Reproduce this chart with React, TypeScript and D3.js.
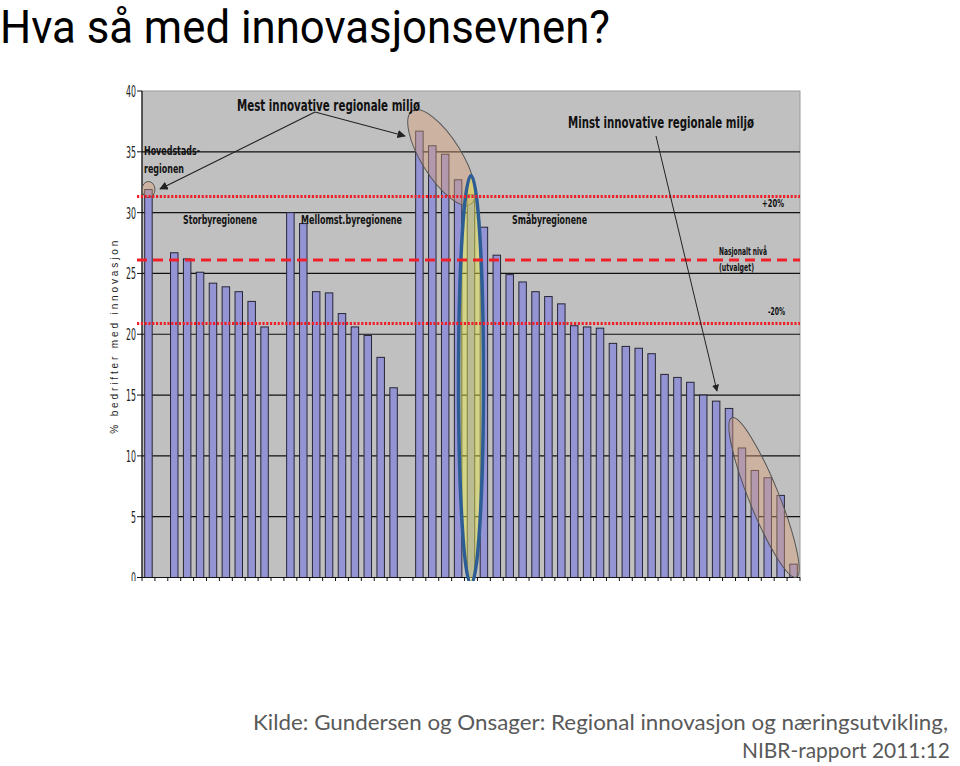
import React from 'react';
import * as d3 from 'd3';

// values (% bedrifter med innovasjon)
const hovedstad = [31.9];
const storby = [26.7, 26.2, 25.1, 24.2, 23.9, 23.5, 22.7, 20.6];
const mellomst = [30.0, 29.1, 23.5, 23.4, 21.7, 20.6, 19.9, 18.1, 15.6];
const smaaby = [
  36.7, 35.5, 34.8, 32.7, 31.5, 28.8, 26.5, 24.9, 24.3, 23.5,
  23.1, 22.5, 20.7, 20.6, 20.5, 19.25, 19.0, 18.85, 18.4, 16.7,
  16.45, 16.05, 15.0, 14.5, 13.9, 10.65, 8.8, 8.2, 6.75, 1.1,
];
const yTicks = [0, 5, 10, 15, 20, 25, 30, 35, 40];
const nasjonalt = 26.1;

// one empty slot between the groups, like the original
const slots: (number | null)[] = [];
[hovedstad, storby, mellomst, smaaby].forEach((g, gi) => {
  if (gi > 0) slots.push(null);
  g.forEach((v) => slots.push(v));
});

const W = 960;
const H = 766;
const plot = { left: 142, right: 800, top: 91, bottom: 577.5 };

const narrow = "'Liberation Sans Narrow', 'DejaVu Sans Condensed', 'Roboto', sans-serif";
const calibri = "Lato, 'Open Sans', sans-serif";

export default function App() {
  const x = d3.scaleBand<number>()
    .domain(d3.range(slots.length))
    .range([plot.left, plot.right])
    .padding(0);
  const y = d3.scaleLinear().domain([0, 40]).range([plot.bottom, plot.top]);
  const barW = x.bandwidth() * 0.58;
  const xc = (i: number) => (x(Math.floor(i)) as number) + x.bandwidth() * (0.5 + i - Math.floor(i));

  const hiIdx = slots.length - smaaby.length + 4; // markert region

  const redLines = [
    { v: nasjonalt * 1.2, dash: '2.2 1.6' },
    { v: nasjonalt, dash: '10 6' },
    { v: nasjonalt * 0.8, dash: '2.2 1.6' },
  ];

  const lbl = (t: string, px: number, py: number, len: number, size = 11.5) => (
    <text x={px} y={py} fontFamily={narrow} fontWeight="bold" fontSize={size}
      textLength={len} lengthAdjust="spacingAndGlyphs" fill="#111">{t}</text>
  );

  return (
    <div style={{ position: 'absolute', left: 0, top: 0 }}>
      <svg width={W} height={H} style={{ display: 'block', background: '#fff' }}>
        <defs>
          <clipPath id="chartClip">
            <rect x={100} y={80} width={703} height={501} />
          </clipPath>
          <marker id="arr" viewBox="0 0 10 10" refX={9} refY={5} markerWidth={7} markerHeight={7} orient="auto">
            <path d="M0,0L10,5L0,10z" fill="#222" />
          </marker>
        </defs>

        <text x={0} y={43} fontFamily="Roboto, sans-serif" fontSize={46} fill="#000"
          textLength={610} lengthAdjust="spacingAndGlyphs">Hva så med innovasjonsevnen?</text>

        <g clipPath="url(#chartClip)">
          <rect x={plot.left} y={plot.top} width={plot.right - plot.left} height={plot.bottom - plot.top}
            fill="#c0c0c0" stroke="#9a9a9a" strokeWidth={1} />

          {yTicks.slice(1, -1).map((t) => (
            <line key={'g' + t} x1={plot.left} x2={plot.right} y1={y(t)} y2={y(t)} stroke="#111" strokeWidth={1.2} />
          ))}

          {slots.map((v, i) => v == null ? null : (
            <rect key={'b' + i} x={xc(i) - barW / 2} y={y(v)} width={barW} height={plot.bottom - y(v)}
              fill="#9494d4" stroke="#262636" strokeWidth={1} />
          ))}

          {/* axes */}
          <line x1={plot.left} x2={plot.left} y1={plot.top} y2={plot.bottom} stroke="#111" strokeWidth={1.2} />
          <line x1={plot.left} x2={plot.right} y1={plot.bottom} y2={plot.bottom} stroke="#111" strokeWidth={1.2} />
          {yTicks.map((t) => (
            <g key={'t' + t}>
              <line x1={plot.left - 5} x2={plot.left} y1={y(t)} y2={y(t)} stroke="#111" />
              <text x={136} y={y(t) + 6} textAnchor="end" fontFamily={narrow} fontSize={16}
                textLength={t < 10 ? 5 : 10} lengthAdjust="spacingAndGlyphs" fill="#222">{t}</text>
            </g>
          ))}
          {d3.range(slots.length + 1).map((i) => {
            const px = i < slots.length ? (x(i) as number) : plot.right;
            return <line key={'c' + i} x1={px} x2={px} y1={plot.bottom} y2={plot.bottom + 4} stroke="#111" />;
          })}

          <text transform={`translate(118,${(plot.top + plot.bottom) / 2 + 3}) rotate(-90)`} textAnchor="middle"
            fontFamily="'Liberation Sans', Arial, sans-serif" fontSize={10} fill="#222"
            textLength={193} lengthAdjust="spacing">% bedrifter med innovasjon</text>

          {/* markeringer */}
          <ellipse cx={xc(0)} cy={y(hovedstad[0])} rx={6.5} ry={8}
            fill="rgba(220,160,120,0.42)" stroke="#555" strokeWidth={1} />
          <ellipse cx={441.5} cy={157.5} rx={55} ry={20} transform="rotate(58 441.5 157.5)"
            fill="rgba(220,160,120,0.42)" stroke="#555" strokeWidth={1} />
          <ellipse cx={764} cy={497.5} rx={86} ry={15} transform="rotate(68 764 497.5)"
            fill="rgba(220,160,120,0.42)" stroke="#555" strokeWidth={1} />
          <ellipse cx={xc(hiIdx)} cy={380} rx={12.5} ry={204.5}
            fill="rgba(238,238,70,0.45)" stroke="#2d5d95" strokeWidth={3.5} />

          {redLines.map((r, i) => (
            <line key={'r' + i} x1={137} x2={plot.right} y1={y(r.v)} y2={y(r.v)}
              stroke="#f0202a" strokeWidth={3} strokeDasharray={r.dash} />
          ))}

          {/* piler */}
          <line x1={315} y1={112} x2={160} y2={189} stroke="#222" strokeWidth={1.2} markerEnd="url(#arr)" />
          <line x1={315} y1={112} x2={405} y2={136} stroke="#222" strokeWidth={1.2} markerEnd="url(#arr)" />
          <line x1={656} y1={136} x2={717} y2={391} stroke="#222" strokeWidth={1} markerEnd="url(#arr)" />

          <text x={237} y={111} fontFamily={narrow} fontWeight="bold" fontSize={16.5} textLength={183}
            lengthAdjust="spacingAndGlyphs" fill="#111">Mest innovative regionale miljø</text>
          <text x={568} y={128} fontFamily={narrow} fontWeight="bold" fontSize={16.5} textLength={186}
            lengthAdjust="spacingAndGlyphs" fill="#111">Minst innovative regionale miljø</text>

          {lbl('Hovedstads-', 144, 155, 56)}
          {lbl('regionen', 144, 173, 40)}
          {lbl('Storbyregionene', 183, 224, 74)}
          {lbl('Mellomst.byregionene', 301, 224, 101)}
          {lbl('Småbyregionene', 512, 224, 75)}
          {lbl('+20%', 762, 207, 22, 10.5)}
          {lbl('Nasjonalt nivå', 719, 255, 48, 10.5)}
          {lbl('(utvalget)', 719, 271, 35, 10.5)}
          {lbl('-20%', 768, 315, 17, 10.5)}
        </g>

        <text x={253} y={730} fontFamily={calibri} fontSize={22} fill="#595959"
          textLength={695} lengthAdjust="spacingAndGlyphs">Kilde: Gundersen og Onsager: Regional innovasjon og næringsutvikling,</text>
        <text x={950} y={758} textAnchor="end" fontFamily={calibri} fontSize={22} fill="#595959"
          textLength={208} lengthAdjust="spacingAndGlyphs">NIBR-rapport 2011:12</text>
      </svg>
    </div>
  );
}
